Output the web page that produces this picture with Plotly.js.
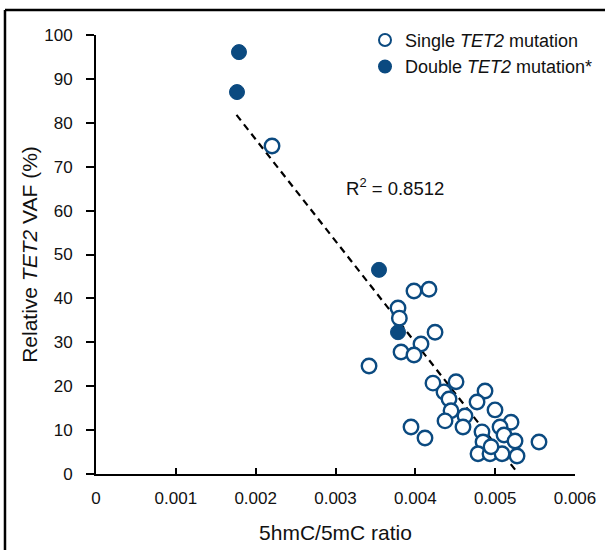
<!DOCTYPE html>
<html>
<head>
<meta charset="utf-8">
<script src="https://cdn.plot.ly/plotly-3.0.1.min.js"></script>
<style>html,body{margin:0;padding:0;background:#fff;}#chart{width:605px;height:550px;}</style>
</head>
<body>
<div id="chart"></div>
<script>
// Single TET2 mutation (open circles)
const singleX = [0.002205, 0.003420, 0.003783, 0.003800, 0.003983, 0.004171, 0.004247, 0.004071, 0.003821, 0.003983,
  0.004221, 0.004510, 0.004359, 0.004422, 0.004873, 0.004773, 0.004447, 0.004622, 0.004372, 0.004597,
  0.004998, 0.003946, 0.004121, 0.005199, 0.005061, 0.004835, 0.005111, 0.005249, 0.004848, 0.005549,
  0.004785, 0.004935, 0.005086, 0.005274, 0.004948];
const singleY = [74.7, 24.6, 37.8, 35.5, 41.7, 42.1, 32.3, 29.6, 27.8, 27.1,
  20.7, 21.0, 18.7, 17.1, 18.9, 16.4, 14.4, 13.2, 12.1, 10.7,
  14.6, 10.7, 8.2, 11.8, 10.7, 9.6, 8.9, 7.5, 7.3, 7.3,
  4.6, 4.6, 4.6, 4.1, 6.2];
// Double TET2 mutation (filled circles)
const doubleX = [0.001791, 0.001766, 0.003545, 0.003783];
const doubleY = [96.1, 87.0, 46.5, 32.3];
// Regression line end points
const fitX = [0.00176, 0.00528];
const fitY = [81.8, 0.3];
const xTicks = [0, 0.001, 0.002, 0.003, 0.004, 0.005, 0.006];
const xTickText = ['0', '0.001', '0.002', '0.003', '0.004', '0.005', '0.006'];
const yTicks = [0, 10, 20, 30, 40, 50, 60, 70, 80, 90, 100];

const blue = '#0b4a80';
const font = '"Liberation Sans", Arial, Helvetica, sans-serif';

const traces = [
  {x: fitX, y: fitY, mode: 'lines', line: {color: '#000', width: 2.2, dash: '7px,5px'}, showlegend: false, hoverinfo: 'skip', cliponaxis: false},
  {x: singleX, y: singleY, mode: 'markers', name: 'Single <i>TET2</i> mutation',
   marker: {symbol: 'circle', size: 14.5, color: '#fff', line: {color: blue, width: 2.4}}, cliponaxis: false},
  {x: doubleX, y: doubleY, mode: 'markers', name: 'Double <i>TET2</i> mutation*',
   marker: {symbol: 'circle', size: 15, color: blue, line: {color: blue, width: 1}}, cliponaxis: false}
];

const layout = {
  width: 605, height: 550,
  margin: {l: 96, r: 30, t: 35, b: 76, autoexpand: false},
  paper_bgcolor: '#fff', plot_bgcolor: '#fff',
  showlegend: true,
  legend: {x: 0.5616, xanchor: 'left', y: 1.03, yanchor: 'top', font: {family: font, size: 18, color: '#111'},
           bgcolor: 'rgba(0,0,0,0)', itemsizing: 'constant', tracegroupgap: 0},
  xaxis: {
    range: [0, 0.006], tickvals: xTicks, ticktext: xTickText,
    showgrid: false, zeroline: false, showline: true, linecolor: '#000', linewidth: 2,
    ticks: 'inside', ticklen: 6, tickwidth: 2, tickcolor: '#000', ticklabelstandoff: 8,
    tickfont: {family: font, size: 17, color: '#111'},
    title: {text: '5hmC/5mC ratio', font: {family: font, size: 21, color: '#111'}, standoff: 18}
  },
  yaxis: {
    range: [0, 100], tickvals: yTicks,
    showgrid: false, zeroline: false, showline: true, linecolor: '#000', linewidth: 2,
    ticks: 'outside', ticklen: 8, tickwidth: 2, tickcolor: '#000', ticklabelstandoff: 10,
    tickfont: {family: font, size: 17, color: '#111'},
    title: {text: 'Relative <i>TET2</i> VAF (%)', font: {family: font, size: 21, color: '#111'}, standoff: 1}
  },
  annotations: [
    {x: 0.00311, y: 65.4, xref: 'x', yref: 'y', text: 'R<sup>2</sup> = 0.8512', showarrow: false,
     xanchor: 'left', yanchor: 'middle', font: {family: font, size: 18.5, color: '#111'}}
  ],
  shapes: [
    {type: 'line', xref: 'paper', yref: 'paper', x0: -0.19, x1: 1.07, y0: 1.057, y1: 1.057, line: {color: '#000', width: 2.5}},
    {type: 'line', xref: 'paper', yref: 'paper', x0: -0.19, x1: -0.19, y0: 1.057, y1: -0.18, line: {color: '#000', width: 2.5}}
  ]
};

Plotly.newPlot('chart', traces, layout, {displayModeBar: false, staticPlot: true});
</script>
</body>
</html>
